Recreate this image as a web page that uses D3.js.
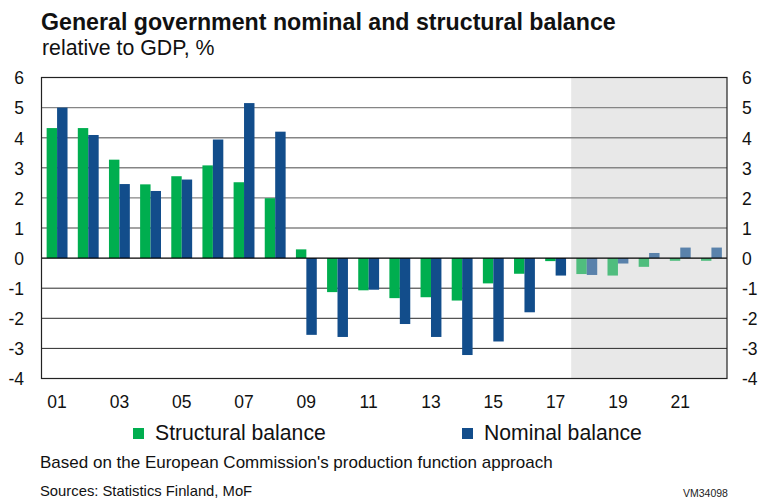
<!DOCTYPE html>
<html>
<head>
<meta charset="utf-8">
<script src="https://cdn.jsdelivr.net/npm/d3@7"></script>
<style>
  body { margin: 0; background: #fff; }
  svg { display: block; font-family: "Liberation Sans", Arial, sans-serif; }
</style>
</head>
<body>
<svg id="chart" width="760" height="499"></svg>
<script>
const years = ["01","02","03","04","05","06","07","08","09","10","11","12","13","14","15","16","17","18","19","20","21","22"];
const structural = [4.32, 4.32, 3.27, 2.45, 2.72, 3.08, 2.52, 1.99, 0.29, -1.13, -1.07, -1.33, -1.30, -1.41, -0.84, -0.52, -0.10, -0.53, -0.58, -0.29, -0.09, -0.09];
const nominal = [5.00, 4.09, 2.46, 2.23, 2.61, 3.94, 5.15, 4.20, -2.55, -2.62, -1.05, -2.19, -2.62, -3.22, -2.77, -1.80, -0.58, -0.56, -0.18, 0.17, 0.35, 0.35];
const forecastFrom = "18";
const yTicks = [-4, -3, -2, -1, 0, 1, 2, 3, 4, 5, 6];
const seriesNames = ["Structural balance", "Nominal balance"];

const colors = {
    structural: "#00ae4f",
    nominal: "#124d8b",
    structuralLight: "#50bd7e",
    nominalLight: "#5a82ab"
};

const plotLeft = 41.5, plotRight = 727, plotTop = 77.5, plotBottom = 378.5;
const svg = d3.select("#chart");

const x = d3.scaleBand()
    .domain(years)
    .range([plotLeft, plotRight])
    .paddingInner(0.33)
    .paddingOuter(0.165);

const x1 = d3.scaleBand()
    .domain([0, 1])
    .range([0, x.bandwidth()]);

const y = d3.scaleLinear()
    .domain([-4, 6])
    .range([plotBottom, plotTop]);

// forecast shading
const shadeX = x(forecastFrom) - x.step() * x.paddingInner() / 2;
svg.append("rect")
    .attr("x", shadeX)
    .attr("y", plotTop)
    .attr("width", plotRight - shadeX)
    .attr("height", plotBottom - plotTop)
    .attr("fill", "#e8e8e8");

// gridlines
svg.append("g")
    .selectAll("line")
    .data(yTicks.filter(d => d !== 0 && d !== 6 && d !== -4))
    .enter().append("line")
    .attr("x1", plotLeft)
    .attr("x2", plotRight)
    .attr("y1", d => y(d))
    .attr("y2", d => y(d))
    .attr("stroke", d => d > 0 ? "#858585" : "#2a2a2a")
    .attr("stroke-width", d => d > 0 ? 1.4 : 1);

// bars
const rows = years.map((yr, i) => ({ yr: yr, vals: [structural[i], nominal[i]], fc: yr >= forecastFrom }));

const groups = svg.append("g")
    .selectAll("g")
    .data(rows)
    .enter().append("g")
    .attr("transform", d => `translate(${x(d.yr)},0)`);

groups.selectAll("rect")
    .data(d => d.vals.map((v, k) => ({ v: v, k: k, fc: d.fc })))
    .enter().append("rect")
    .attr("x", d => x1(d.k))
    .attr("width", x1.bandwidth())
    .attr("y", d => y(Math.max(0, d.v)))
    .attr("height", d => Math.abs(y(d.v) - y(0)))
    .attr("fill", d => {
        if (d.k === 0) return d.fc ? colors.structuralLight : colors.structural;
        return d.fc ? colors.nominalLight : colors.nominal;
    });

// zero line and frame
svg.append("line")
    .attr("x1", plotLeft).attr("x2", plotRight)
    .attr("y1", y(0)).attr("y2", y(0))
    .attr("stroke", "#000").attr("stroke-width", 1.2);

svg.append("rect")
    .attr("x", plotLeft).attr("y", plotTop)
    .attr("width", plotRight - plotLeft).attr("height", plotBottom - plotTop)
    .attr("fill", "none")
    .attr("stroke", "#222")
    .attr("stroke-width", 1.2);

// y axis labels (plain hyphen minus, as in the original)
const fmt = d => String(d);
const yLeft = d3.axisLeft(y).tickValues(yTicks).tickFormat(fmt).tickSize(0).tickPadding(0);
const gl = svg.append("g").attr("transform", `translate(24,0)`).call(yLeft);
const yRight = d3.axisRight(y).tickValues(yTicks).tickFormat(fmt).tickSize(0).tickPadding(0);
const gr = svg.append("g").attr("transform", `translate(742,0)`).call(yRight);
[gl, gr].forEach(g => {
    g.select(".domain").remove();
    g.selectAll("text")
        .attr("font-size", 17.5)
        .attr("font-family", "Liberation Sans, Arial, sans-serif")
        .attr("fill", "#111")
        .attr("dy", "0.36em");
});

// x axis labels
const xAxis = d3.axisBottom(x)
    .tickValues(years.filter((d, i) => i % 2 === 0))
    .tickSize(0)
    .tickPadding(0);
const gx = svg.append("g").attr("transform", `translate(0,395)`).call(xAxis);
gx.select(".domain").remove();
gx.selectAll("text")
    .attr("font-size", 17.5)
    .attr("font-family", "Liberation Sans, Arial, sans-serif")
    .attr("fill", "#111")
    .attr("dy", "0.72em");

// title
svg.append("text")
    .attr("x", 41).attr("y", 30)
    .attr("font-size", 23.2)
    .attr("font-weight", "bold")
    .attr("fill", "#111")
    .text("General government nominal and structural balance");

svg.append("text")
    .attr("x", 42).attr("y", 55)
    .attr("font-size", 21.3)
    .attr("fill", "#111")
    .text("relative to GDP, %");

// legend
const legendPos = [133, 462];
const legend = svg.append("g")
    .selectAll("g")
    .data(seriesNames)
    .enter().append("g")
    .attr("transform", (d, i) => `translate(${legendPos[i]},428)`);

legend.append("rect")
    .attr("width", 11).attr("height", 11)
    .attr("fill", (d, i) => i === 0 ? colors.structural : colors.nominal);

legend.append("text")
    .attr("x", 22).attr("y", 11.5)
    .attr("font-size", 21.2)
    .attr("fill", "#111")
    .text(d => d);

// notes
svg.append("text")
    .attr("x", 40).attr("y", 468)
    .attr("font-size", 17)
    .attr("fill", "#111")
    .text("Based on the European Commission's production function approach");

svg.append("text")
    .attr("x", 40).attr("y", 496)
    .attr("font-size", 14.8)
    .attr("fill", "#111")
    .text("Sources: Statistics Finland, MoF");

svg.append("text")
    .attr("x", 683).attr("y", 497)
    .attr("font-size", 10.5)
    .attr("fill", "#222")
    .text("VM34098");
</script>
</body>
</html>
